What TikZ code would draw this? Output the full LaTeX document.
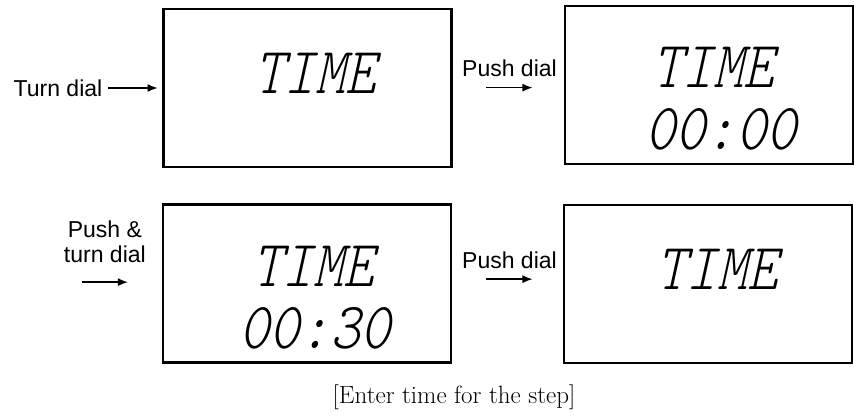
\documentclass[tikz,border=0pt]{standalone}
\usepackage{fontspec}
\newfontfamily\labelfont{Liberation Sans}
\newfontfamily\lcdfont[FakeSlant=0.22,FakeStretch=0.87]{Latin Modern Mono Light}
\usetikzlibrary{arrows.meta}
\usetikzlibrary{positioning}
\tikzstyle{screen} = [rectangle, minimum width=288pt, minimum height=158pt, draw=black, line width=2.2pt, outer sep=0pt]
\tikzstyle{lcd} = [font=\lcdfont\fontsize{66}{60}\selectfont, inner sep=0pt]
\tikzstyle{hint} = [font=\labelfont\fontsize{23}{25}\selectfont, align=center, inner sep=0pt]
\tikzstyle{arrow} = [line width=1.3pt,->,>={Latex[length=10pt,width=8pt]}]

\begin{document}
\begin{tikzpicture}[x=1pt,y=1pt]
\useasboundingbox (0,0) rectangle (854,-415);

% Screens
\node (scr1) [screen] at (307.5,-88) {};
\node (scr2) [screen] at (709,-85) {};
\node (scr3) [screen] at (307,-283.5) {};
\node (scr4) [screen] at (708,-284) {};

% Display readouts
\node (lcd1) [lcd] at (315,-73) {TIME};
\node (lcd2) [lcd] at (713,-67.5) {TIME};
\node (lcd2b) [lcd] at (721,-129.5) {00:00};
\node (lcd3) [lcd] at (313,-266.5) {TIME};
\node (lcd3b) [lcd] at (315,-328) {00:30};
\node (lcd4) [lcd] at (717,-269) {TIME};

% Dial hints
\node (turn) [hint, left=61pt of scr1] {Turn dial};
\node (push1) [hint, left=8pt of scr2, yshift=17pt] {Push dial};
\node (push2) [hint, left=17pt of scr3, yshift=41.5pt] {Push \&\\turn dial};
\node (push3) [hint, left=7pt of scr4, yshift=24pt] {Push dial};

% Arrows
\coordinate [below=11pt of push1] (push1arr);
\coordinate [below=19pt of push2] (push2arr);
\coordinate [below=10.5pt of push3] (push3arr);
\draw [arrow, shorten <=5pt, shorten >=6pt] (turn.east) -- (scr1.west);
\draw [arrow] ([xshift=-23pt]push1arr) -- ([xshift=23pt]push1arr);
\draw [arrow] ([xshift=-23pt]push2arr) -- ([xshift=23pt]push2arr);
\draw [arrow] ([xshift=-23pt]push3arr) -- ([xshift=23pt]push3arr);

% Caption
\node (caption) [font=\fontsize{25}{28}\selectfont] at (454,-397) {[Enter time for the step]};

\end{tikzpicture}
\end{document}
